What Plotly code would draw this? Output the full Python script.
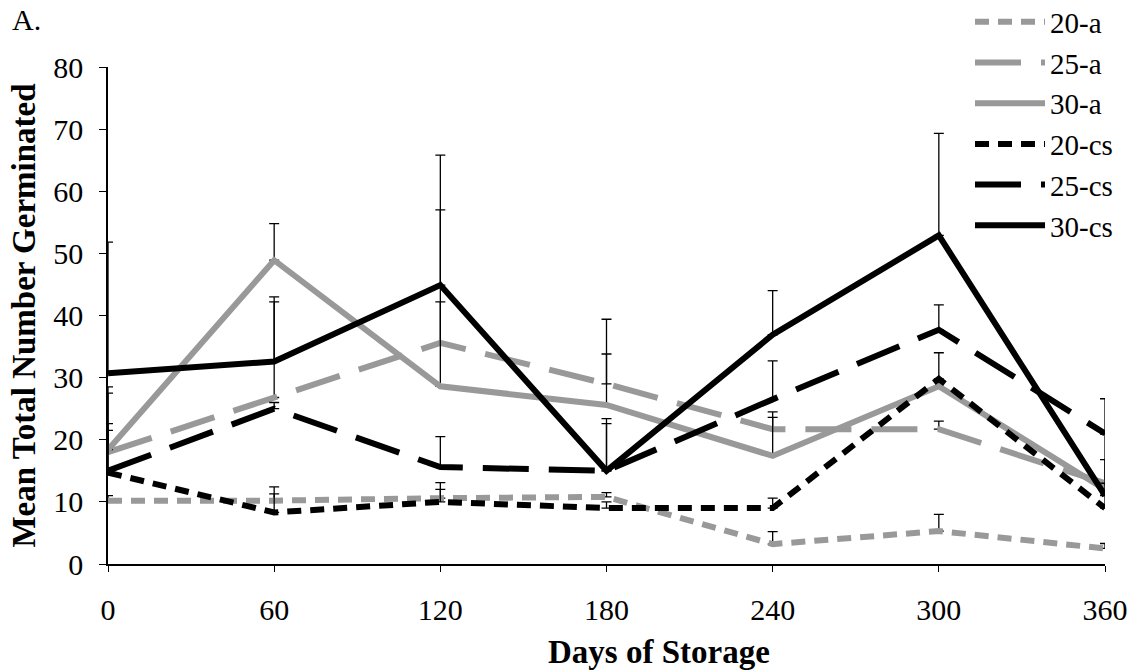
import plotly.graph_objects as go

days = [0, 60, 120, 180, 240, 300, 360]

series_names = ["20-a", "25-a", "30-a", "20-cs", "25-cs", "30-cs"]

mean_20a = [10.2, 10.2, 10.6, 10.8, 3.2, 5.3, 2.5]
mean_25a = [18.0, 26.8, 35.6, 29.0, 21.7, 21.7, 13.0]
mean_30a = [18.4, 48.9, 28.6, 25.6, 17.4, 28.6, 12.0]
mean_20cs = [14.7, 8.3, 10.0, 9.0, 9.0, 29.8, 9.0]
mean_25cs = [15.0, 25.0, 15.6, 15.0, 26.5, 37.7, 21.0]
mean_30cs = [30.7, 32.6, 44.9, 15.0, 36.9, 52.9, 11.0]

# upper end of each error bar (mean + error)
top_20a = [11.0, 12.4, 13.1, 11.5, 5.2, 8.0, 3.3]
top_25a = [21.5, 43.0, 57.0, 39.4, 24.5, 23.0, 20.9]
top_30a = [22.6, 54.8, 42.2, 33.8, 23.6, 29.6, 13.0]
top_20cs = [27.5, 11.3, 12.0, 10.0, 10.6, 34.0, 11.3]
top_25cs = [28.5, 26.0, 20.5, 22.6, 32.7, 41.7, 26.6]
top_30cs = [51.8, 42.2, 65.8, 23.4, 44.0, 69.3, 16.8]

y_ticks = [0, 10, 20, 30, 40, 50, 60, 70, 80]

GRAY = "#999999"
BLACK = "#000000"
SHORT = "14px,9px"
LONG = "46px,20px"

styles = [
    (GRAY, SHORT), (GRAY, LONG), (GRAY, "solid"),
    (BLACK, SHORT), (BLACK, LONG), (BLACK, "solid"),
]
means = [mean_20a, mean_25a, mean_30a, mean_20cs, mean_25cs, mean_30cs]
tops = [top_20a, top_25a, top_30a, top_20cs, top_25cs, top_30cs]

FONT = "Times New Roman, Liberation Serif, serif"
TICK_FS = 30
TITLE_FS = 33
LEG_FS = 29

fig = go.Figure()
for name, m, t, (col, dash) in zip(series_names, means, tops, styles):
    plus = [max(tt - mm, 0) for tt, mm in zip(t, m)]
    fig.add_trace(go.Scatter(
        x=days, y=m, name=name, mode="lines",
        line=dict(color=col, width=6, dash=dash),
        error_y=dict(type="data", symmetric=False, array=plus,
                     arrayminus=[0] * len(plus), color="black",
                     thickness=1.3, width=5),
    ))

fig.update_layout(
    width=1140, height=672,
    margin=dict(l=108, r=35, t=67, b=108, autoexpand=False),
    paper_bgcolor="white", plot_bgcolor="white",
    font=dict(family=FONT, size=TICK_FS, color="black"),
    showlegend=True,
    legend=dict(x=0.8646, y=1.142, xanchor="left", yanchor="top",
                bgcolor="rgba(0,0,0,0)", font=dict(family=FONT, size=LEG_FS),
                itemwidth=70, tracegroupgap=0),
    xaxis=dict(range=[0, 360], tickvals=days, ticktext=[str(d) for d in days],
               showgrid=False, zeroline=False, showline=True, linecolor="black",
               linewidth=1.5, ticks="outside", ticklen=6, tickcolor="black",
               ticklabelstandoff=12,
               tickfont=dict(family=FONT, size=TICK_FS)),
    yaxis=dict(range=[0, 80], tickvals=y_ticks, showgrid=False, zeroline=False,
               showline=True, linecolor="black", linewidth=1.5, ticks="outside",
               ticklen=7, tickcolor="black", ticklabelstandoff=10,
               tickfont=dict(family=FONT, size=TICK_FS),
               title=dict(text="<b>Mean Total Number Germinated</b>",
                          font=dict(family=FONT, size=TITLE_FS), standoff=8)),
    annotations=[
        dict(text="A.", x=0, y=1, xref="paper", yref="paper", showarrow=False,
             xanchor="left", yanchor="top", xshift=-98, yshift=66,
             font=dict(family=FONT, size=TICK_FS)),
        dict(text="<b>Days of Storage</b>", x=0.553, y=0, xref="paper", yref="paper",
             showarrow=False, xanchor="center", yanchor="middle", yshift=-88,
             font=dict(family=FONT, size=TITLE_FS)),
    ],
)

fig.write_html("out.html")
